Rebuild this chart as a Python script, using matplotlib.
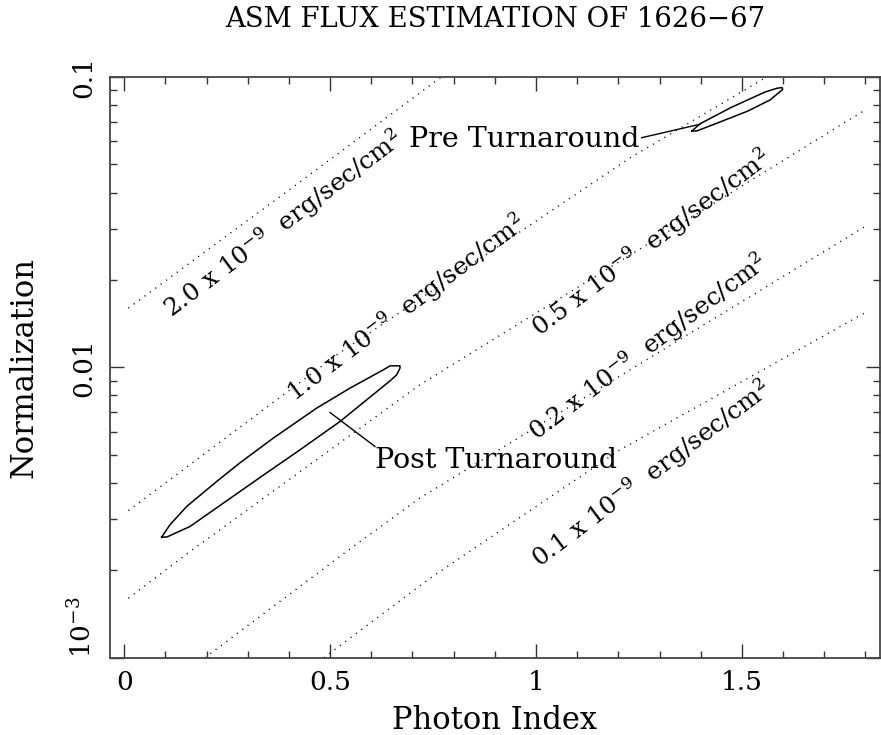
import numpy as np
import matplotlib
matplotlib.use("Agg")
import matplotlib.pyplot as plt
from matplotlib.ticker import MultipleLocator, LogLocator, NullFormatter

plt.rcParams['font.family'] = ['DejaVu Serif']
plt.rcParams['mathtext.fontset'] = 'dejavuserif'

# ---------------- data ----------------
title = "ASM FLUX ESTIMATION OF 1626\u221267"
xlabel = "Photon Index"
ylabel = "Normalization"
xticks = [0, 0.5, 1, 1.5]
xtick_labels = ["0", "0.5", "1", "1.5"]
yticks = [1e-3, 1e-2, 1e-1]
ytick_labels = ["10$^{-3}$", "0.01", "0.1"]

# constant-flux lines (photon index, normalization)
flux_values = ["2.0", "1.0", "0.5", "0.2", "0.1"]
line20_x = [0.01, 0.40, 0.77]
line20_n = [0.0160, 0.0408, 0.100]
line10_x = [0.01, 0.516, 1.228, 1.56]
line10_n = [0.00321, 0.01104, 0.0526, 0.100]
line05_x = [0.01, 0.16, 0.718, 1.80]
line05_n = [0.001603, 0.002323, 0.00871, 0.0771]
line02_x = [0.196, 0.540, 0.718, 1.80]
line02_n = [0.001, 0.002323, 0.003548, 0.0306]
line01_x = [0.485, 0.743, 1.204, 1.682, 1.80]
line01_n = [0.001, 0.00188, 0.0052, 0.01245, 0.01545]

# label anchor points (photon index, normalization)
flabel_x = [0.116, 0.4146, 1.0097, 1.0017, 1.0097]
flabel_n = [0.01479, 0.007548, 0.01263, 0.005553, 0.002036]

# confidence contours
post_x = [0.0908, 0.1110, 0.1516, 0.2244, 0.2810, 0.3619, 0.4673, 0.5482,
          0.6291, 0.6454, 0.6696, 0.6696, 0.6616, 0.6454, 0.5239, 0.4268,
          0.3216, 0.1596, 0.1030, 0.0908]
post_n = [0.002603, 0.002870, 0.003318, 0.004045, 0.004690, 0.005706,
          0.007238, 0.008481, 0.009804, 0.010121, 0.010121, 0.009936,
          0.009423, 0.008982, 0.006508, 0.005200, 0.004100, 0.002831,
          0.002603, 0.002603]
pre_x = [1.3789, 1.3984, 1.4737, 1.5562, 1.5854, 1.5975, 1.5992, 1.5683,
         1.5149, 1.4389, 1.3903, 1.3789]
pre_n = [0.06519, 0.06901, 0.07852, 0.08878, 0.09144, 0.09201, 0.09058,
         0.08334, 0.07638, 0.06928, 0.06519, 0.06519]

# annotation leaders and texts
pre_leader_x = [1.2567, 1.3984]
pre_leader_n = [0.06180, 0.06874]
post_leader_x = [0.4996, 0.6089]
post_leader_n = [0.006991, 0.005338]
pre_text = "Pre Turnaround"
pre_text_pos = (1.252, 0.05741)
post_text = "Post Turnaround"
post_text_pos = (0.6089, 0.004508)

# ---------------- figure ----------------
W, H = 881, 735
fig = plt.figure(figsize=(W / 100, H / 100), dpi=100)
ax = fig.add_axes([110 / W, 1 - 657.7 / H, 770 / W, 580.7 / H])
ax.set_yscale('log')
ax.set_xlim(-0.0347, 1.8355)
ax.set_ylim(1e-3, 0.1)

dot = dict(color='black', lw=1.0, linestyle=(0, (0.8, 4.0)))
for xs, ns in [(line20_x, line20_n), (line10_x, line10_n), (line05_x, line05_n),
               (line02_x, line02_n), (line01_x, line01_n)]:
    ax.plot(xs, ns, **dot)

for fv, lx, ln in zip(flux_values, flabel_x, flabel_n):
    ax.text(lx, ln, fv + " x 10$^{-9}$  erg/sec/cm$^2$", rotation=37,
            rotation_mode='anchor', ha='left', va='baseline', fontsize=17.8)

ax.plot(post_x, post_n, color='black', lw=1.1)
ax.plot(pre_x, pre_n, color='black', lw=1.1)
ax.plot(pre_leader_x, pre_leader_n, color='black', lw=1.0)
ax.plot(post_leader_x, post_leader_n, color='black', lw=1.0)
ax.text(pre_text_pos[0], pre_text_pos[1], pre_text, ha='right', va='baseline',
        fontsize=20.5)
ax.text(post_text_pos[0], post_text_pos[1], post_text, ha='left', va='baseline',
        fontsize=20.5)

ax.set_xticks(xticks)
ax.set_xticklabels(xtick_labels)
ax.xaxis.set_minor_locator(MultipleLocator(0.1))
ax.set_yticks(yticks)
ax.set_yticklabels(ytick_labels, rotation=90, va='center')
ylabs = ax.get_yticklabels()
ylabs[0].set_va('bottom')
ax.yaxis.set_minor_locator(LogLocator(base=10, subs=np.arange(2, 10)))
ax.yaxis.set_minor_formatter(NullFormatter())

ax.tick_params(which='both', direction='in', top=True, right=True,
               color='#333333', width=1.0)
ax.tick_params(which='major', length=10, labelsize=19)
ax.tick_params(which='minor', length=5)
ax.tick_params(axis='x', which='major', pad=9)
ax.tick_params(axis='y', which='major', pad=10)
for s in ax.spines.values():
    s.set_color('#444444')
    s.set_linewidth(1.3)

ax.set_title(title, fontsize=19.8, pad=36)
ax.set_xlabel(xlabel, fontsize=22)
ax.xaxis.set_label_coords(0.5, -0.082)
ax.set_ylabel(ylabel, fontsize=22)
ax.yaxis.set_label_coords(-0.091, 0.5)

fig.savefig("out.png", dpi=100)
